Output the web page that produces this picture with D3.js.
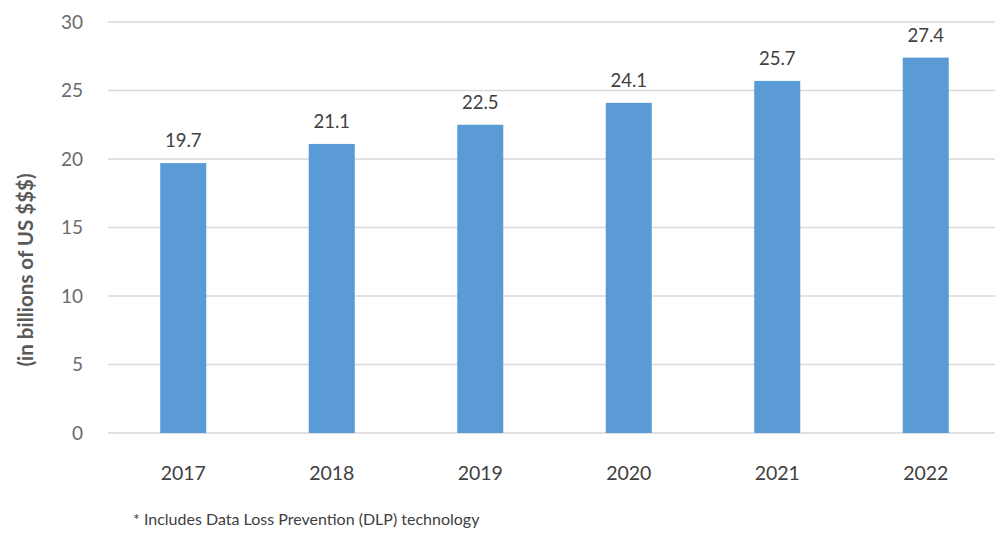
<!DOCTYPE html>
<html>
<head>
<meta charset="utf-8">
<script src="https://cdn.jsdelivr.net/npm/d3@7"></script>
<style>
  body { margin: 0; background: #fff; }
  svg { font-family: Lato, "Open Sans", sans-serif; }
</style>
</head>
<body>
<script>
// Data
const years = ["2017", "2018", "2019", "2020", "2021", "2022"];
const values = [19.7, 21.1, 22.5, 24.1, 25.7, 27.4];
const yTicks = [0, 5, 10, 15, 20, 25, 30];

const width = 997, height = 535;
const margin = { top: 22, right: 0, bottom: 102, left: 109 };

const svg = d3.select("body").append("svg")
  .attr("width", width)
  .attr("height", height);

let x = d3.scaleBand()
  .domain(years)
  .range([margin.left, 1000])
  .paddingInner(0.69)
  .paddingOuter(0.345);

let y = d3.scaleLinear()
  .domain([0, 30])
  .range([433, margin.top]);

// gridlines
svg.append("g")
  .selectAll("line")
  .data(yTicks)
  .join("line")
  .attr("x1", 108)
  .attr("x2", 995)
  .attr("y1", d => y(d))
  .attr("y2", d => y(d))
  .attr("stroke", "#d9d9d9")
  .attr("stroke-width", 1.5);

// y tick labels
svg.append("g")
  .selectAll("text")
  .data(yTicks)
  .join("text")
  .attr("x", 83)
  .attr("y", d => y(d))
  .attr("dy", "0.35em")
  .attr("text-anchor", "end")
  .attr("fill", "#6b6b6b")
  .attr("font-size", 19)
  .text(d => d);

// axis title
svg.append("text")
  .attr("transform", "translate(33,270) rotate(-90)")
  .attr("text-anchor", "middle")
  .attr("fill", "#595959")
  .attr("font-size", 20.5)
  .attr("font-weight", "bold")
  .text("(in billions of US $$$)");

// bars
svg.append("g")
  .selectAll("rect")
  .data(values)
  .join("rect")
  .attr("x", (d, i) => x(years[i]))
  .attr("y", d => y(d))
  .attr("width", x.bandwidth())
  .attr("height", d => y(0) - y(d))
  .attr("fill", "#5b9bd5");

// value labels
svg.append("g")
  .selectAll("text")
  .data(values)
  .join("text")
  .attr("x", (d, i) => x(years[i]) + x.bandwidth() / 2)
  .attr("y", d => y(d) - 16)
  .attr("text-anchor", "middle")
  .attr("fill", "#404040")
  .attr("font-size", 18.5)
  .text(d => d.toFixed(1));

// year labels
svg.append("g")
  .selectAll("text")
  .data(years)
  .join("text")
  .attr("x", d => x(d) + x.bandwidth() / 2)
  .attr("y", 480)
  .attr("text-anchor", "middle")
  .attr("fill", "#404040")
  .attr("font-size", 19.5)
  .text(d => d);

// footnote
svg.append("text")
  .attr("x", 133)
  .attr("y", 525)
  .attr("fill", "#404040")
  .attr("font-size", 16)
  .text("* Includes Data Loss Prevention (DLP) technology");
</script>
</body>
</html>
